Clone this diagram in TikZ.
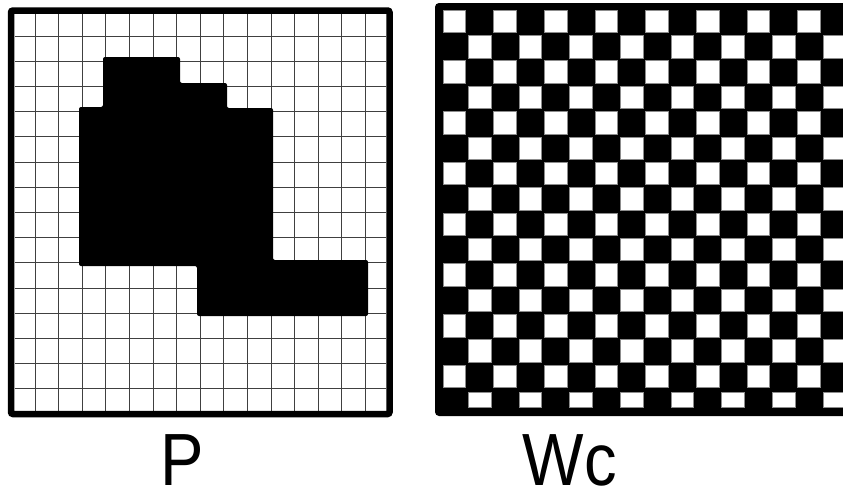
\documentclass[tikz,border=0pt]{standalone}
\usepackage{fontspec}
\setmainfont{Liberation Sans}
\usetikzlibrary{positioning}

\begin{document}
\begin{tikzpicture}[x=1pt, y=-1pt,
    gridline/.style={black!75, line width=1pt},
    frameline/.style={line width=6.5pt, rounded corners=2pt},
    whitesq/.style={fill=white, draw=black!45, line width=0.5pt},
    biglabel/.style={font=\fontsize{74}{78}\selectfont, inner sep=0pt, anchor=base, xscale=0.88}]
    \useasboundingbox (0,0) rectangle (843,490);

    % Left panel: grid
    \foreach \k in {0,...,14} {
        \draw[gridline] ({35+23.6*\k},14) -- ({35+23.6*\k},411);
        \draw[gridline] (15,{36+25.2*\k}) -- (386,{36+25.2*\k});
    }

    % Left panel: black region
    \fill[black, rounded corners=2pt] (103,57) -- (180,57) -- (180,83) -- (227,83) -- (227,108)
        -- (273,108) -- (273,260) -- (368,260) -- (368,316) -- (197,316) -- (197,266)
        -- (79,266) -- (79,107) -- (103,107) -- cycle;

    % Left panel: frame
    \draw[frameline] (11,10.5) rectangle (389.5,414);

    % Right panel: checkerboard
    \fill[black, rounded corners=4pt] (435,3) rectangle (860,416);
    \foreach \r in {0,...,14} {
        \pgfmathtruncatemacro{\off}{mod(\r,2)}
        \foreach \c in {0,...,7} {
            \draw[whitesq] ({443+25.33*(2*\c+\off)},{10+25.36*\r}) rectangle ++(22.5,22.5);
        }
    }
    \foreach \c in {0,...,7} {
        \draw[whitesq] ({443+25.33*(2*\c+1)},392) rectangle ++(22.5,15);
    }

    % Labels
    \node[biglabel] (lblP) at (182,485) {P};
    \node[biglabel] (lblWc) at (570,485) {Wc};
\end{tikzpicture}
\end{document}
